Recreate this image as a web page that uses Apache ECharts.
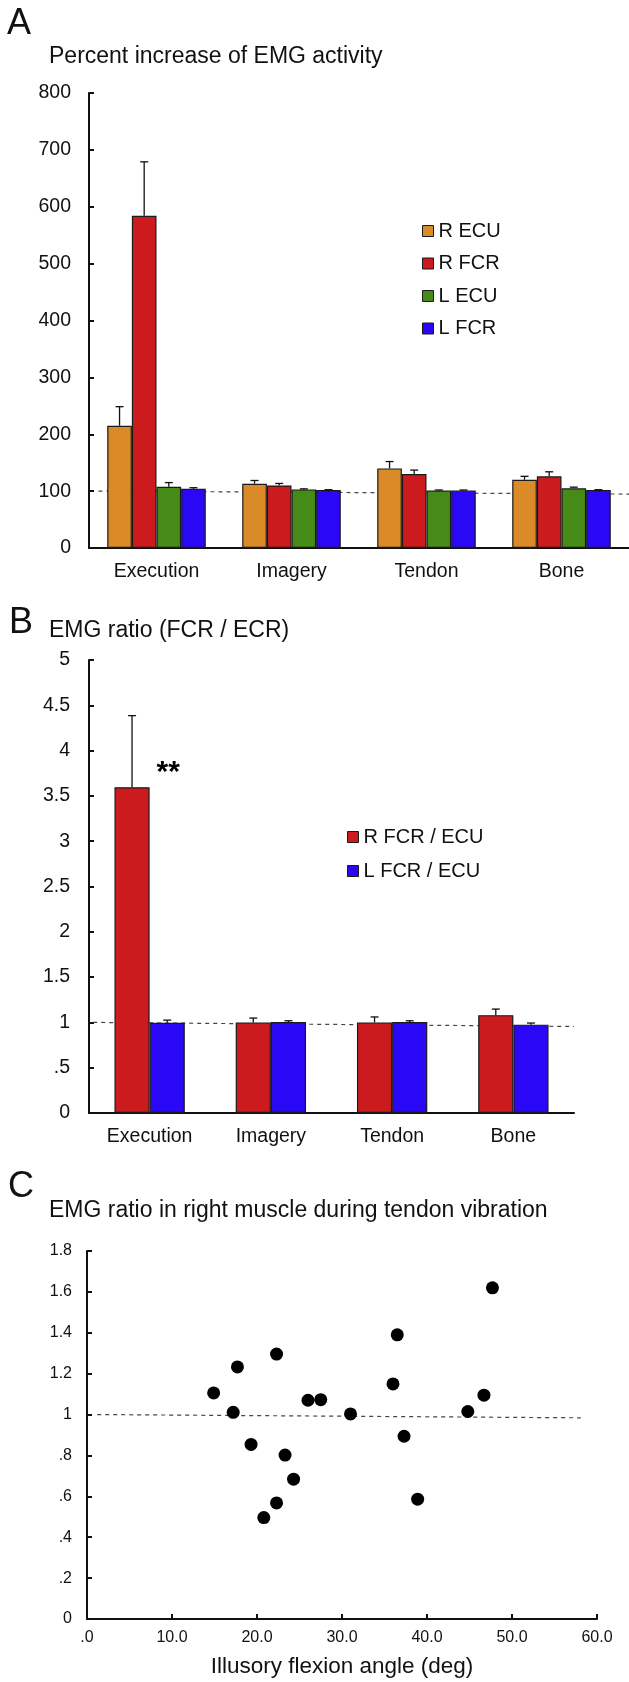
<!DOCTYPE html>
<html>
<head>
<meta charset="utf-8">
<script src="https://cdn.jsdelivr.net/npm/echarts@6/dist/echarts.min.js"></script>
<style>
  html, body { margin: 0; padding: 0; background: #fff; }
  #chart { width: 629px; height: 1682px; }
</style>
</head>
<body>
<div id="chart"></div>
<script>
const FONT = '"Liberation Sans", Arial, sans-serif';
const INK = '#111';

// categories shared by panels A and B
const categories = ['Execution', 'Imagery', 'Tendon', 'Bone'];

// panel A: percent increase of EMG activity (mean, SE)
const namesA = ['R ECU', 'R FCR', 'L ECU', 'L FCR'];
const colorsA = ['#DA8A27', '#CC1B1F', '#468A18', '#2A08F6'];
const rEcu = [215, 113, 140, 120];
const rEcuErr = [33.5, 5.7, 12, 6];
const rFcr = [584, 110, 130, 126];
const rFcrErr = [95, 3.5, 7, 8];
const lEcu = [107.6, 103, 101, 105];
const lEcuErr = [7.4, 1, 1, 2];
const lFcr = [104, 102, 101, 102];
const lFcrErr = [2, 0.5, 1, 0.5];
const trendA = [[0.07, 100], [4, 94.8]];

// panel B: EMG ratio (FCR / ECR)
const namesB = ['R FCR / ECU', 'L FCR / ECU'];
const colorsB = ['#CC1B1F', '#2A08F6'];
const ratioR = [3.596, 1.0, 1.0, 1.08];
const ratioRErr = [0.79, 0.048, 0.06, 0.067];
const ratioL = [0.995, 1.004, 1.004, 0.975];
const ratioLErr = [0.03, 0.014, 0.014, 0.018];
const trendB = [[0.035, 1.0], [4, 0.955]];
const sigMarkB = [[0.654, 3.82]];

// panel C: EMG ratio vs illusory flexion angle
const angle = [14.9, 17.2, 17.7, 19.3, 20.8, 22.3, 22.3, 23.3, 24.3, 26.0, 27.5, 31.0, 36.0, 36.5, 37.3, 38.9, 44.8, 46.7, 47.7];
const ratioC = [1.106, 1.011, 1.233, 0.854, 0.496, 0.568, 1.296, 0.802, 0.684, 1.070, 1.073, 1.003, 1.150, 1.390, 0.894, 0.586, 1.015, 1.095, 1.620];
const trendC = [[1.2, 1.0], [58.1, 0.984]];

const stripZero = (v, d) => {
  const s = d == null ? String(+v.toFixed(2)) : v.toFixed(d);
  return s.replace(/^0\./, '.');
};

const errorSeries = (vals, errs, idx, n, gap, xi, yi) => ({
  type: 'custom',
  xAxisIndex: xi,
  yAxisIndex: yi,
  z: 5,
  encode: { x: 0, y: [1, 2] },
  data: vals.map((v, i) => [i, v, v + errs[i]]),
  renderItem: (params, api) => {
    const base = api.coord([api.value(0), api.value(1)]);
    const top = api.coord([api.value(0), api.value(2)]);
    const band = api.size([1, 0])[0];
    const bw = band * (1 - gap) / n;
    const x = base[0] + (idx - (n - 1) / 2) * bw;
    const st = { stroke: INK, lineWidth: 1.3 };
    return {
      type: 'group',
      children: [
        { type: 'line', shape: { x1: x, y1: base[1], x2: x, y2: top[1] }, style: st },
        { type: 'line', shape: { x1: x - 4, y1: top[1], x2: x + 4, y2: top[1] }, style: st },
      ],
    };
  },
});

const barSeries = (name, vals, color, gap, xi, yi) => ({
  name,
  type: 'bar',
  xAxisIndex: xi,
  yAxisIndex: yi,
  data: vals,
  barGap: '0%',
  barCategoryGap: gap * 100 + '%',
  z: 3,
  itemStyle: { color, borderColor: '#1a1a1a', borderWidth: 1.2 },
});

const dashSeries = (data, xi, yi) => ({
  type: 'line',
  xAxisIndex: xi,
  yAxisIndex: yi,
  data,
  symbol: 'none',
  z: 1,
  silent: true,
  lineStyle: { color: '#444', width: 1.2, type: [4, 4] },
});

const axisLine = { show: true, lineStyle: { color: INK, width: 2 } };
const labelStyle = (size, margin) => ({ color: INK, fontSize: size, fontFamily: FONT, margin });
const titleStyle = (size) => ({ fontSize: size, fontWeight: 'normal', color: INK, fontFamily: FONT });
const legendBase = {
  orient: 'vertical', padding: 0, itemWidth: 11, itemHeight: 11, icon: 'rect',
  itemStyle: { borderColor: '#1a1a1a', borderWidth: 1 },
  textStyle: { fontSize: 20, color: INK, fontFamily: FONT },
  selectedMode: false,
};

const gapA = 0.27;
const gapB = 0.42;

const chart = echarts.init(document.getElementById('chart'));
chart.setOption({
  animation: false,
  backgroundColor: '#fff',
  textStyle: { fontFamily: FONT },
  title: [
    { text: 'A', left: 7, top: 6, padding: 0, textStyle: titleStyle(36) },
    { text: 'Percent increase of EMG activity', left: 49, top: 45, padding: 0, textStyle: titleStyle(23) },
    { text: 'B', left: 9, top: 605, padding: 0, textStyle: titleStyle(36) },
    { text: 'EMG ratio (FCR / ECR)', left: 49, top: 619, padding: 0, textStyle: titleStyle(23) },
    { text: 'C', left: 8, top: 1169, padding: 0, textStyle: titleStyle(36) },
    { text: 'EMG ratio in right muscle during tendon vibration', left: 49, top: 1199, padding: 0, textStyle: titleStyle(23) },
  ],
  legend: [
    { ...legendBase, data: namesA, left: 422, top: 221, itemGap: 12.5 },
    { ...legendBase, data: namesB, left: 347, top: 827, itemGap: 14 },
  ],
  grid: [
    { left: 89, top: 93, width: 541, height: 455 },
    { left: 89, top: 660, width: 485, height: 453 },
    { left: 87, top: 1251, width: 510, height: 368 },
  ],
  xAxis: [
    { type: 'category', gridIndex: 0, data: categories, axisLine, axisTick: { show: false }, axisLabel: labelStyle(19.5, 14) },
    { type: 'value', gridIndex: 0, min: 0, max: 4, show: false },
    { type: 'category', gridIndex: 1, data: categories, axisLine, axisTick: { show: false }, axisLabel: labelStyle(19.5, 14) },
    { type: 'value', gridIndex: 1, min: 0, max: 4, show: false },
    {
      type: 'value', gridIndex: 2, min: 0, max: 60, interval: 10,
      axisLine, splitLine: { show: false },
      axisTick: { show: true, inside: true, length: 5, lineStyle: { color: INK, width: 2 } },
      axisLabel: { ...labelStyle(16, 11), formatter: (v) => stripZero(v, 1) },
      name: 'Illusory flexion angle (deg)', nameLocation: 'middle', nameGap: 36,
      nameTextStyle: { fontSize: 22.5, color: INK, fontFamily: FONT },
    },
  ],
  yAxis: [
    {
      type: 'value', gridIndex: 0, min: 0, max: 800, interval: 100,
      axisLine, splitLine: { show: false },
      axisTick: { show: true, inside: true, length: 5, lineStyle: { color: INK, width: 2 } },
      axisLabel: labelStyle(19.5, 18),
    },
    {
      type: 'value', gridIndex: 1, min: 0, max: 5, interval: 0.5,
      axisLine, splitLine: { show: false },
      axisTick: { show: true, inside: true, length: 5, lineStyle: { color: INK, width: 2 } },
      axisLabel: { ...labelStyle(19.5, 19), formatter: (v) => stripZero(v) },
    },
    {
      type: 'value', gridIndex: 2, min: 0, max: 1.8, interval: 0.2,
      axisLine, splitLine: { show: false },
      axisTick: { show: true, inside: true, length: 5, lineStyle: { color: INK, width: 2 } },
      axisLabel: { ...labelStyle(16, 15), formatter: (v) => stripZero(v) },
    },
  ],
  series: [
    dashSeries(trendA, 1, 0),
    barSeries(namesA[0], rEcu, colorsA[0], gapA, 0, 0),
    barSeries(namesA[1], rFcr, colorsA[1], gapA, 0, 0),
    barSeries(namesA[2], lEcu, colorsA[2], gapA, 0, 0),
    barSeries(namesA[3], lFcr, colorsA[3], gapA, 0, 0),
    errorSeries(rEcu, rEcuErr, 0, 4, gapA, 0, 0),
    errorSeries(rFcr, rFcrErr, 1, 4, gapA, 0, 0),
    errorSeries(lEcu, lEcuErr, 2, 4, gapA, 0, 0),
    errorSeries(lFcr, lFcrErr, 3, 4, gapA, 0, 0),

    dashSeries(trendB, 3, 1),
    barSeries(namesB[0], ratioR, colorsB[0], gapB, 2, 1),
    barSeries(namesB[1], ratioL, colorsB[1], gapB, 2, 1),
    errorSeries(ratioR, ratioRErr, 0, 2, gapB, 2, 1),
    errorSeries(ratioL, ratioLErr, 1, 2, gapB, 2, 1),
    {
      type: 'scatter', xAxisIndex: 3, yAxisIndex: 1, data: sigMarkB, symbolSize: 0, silent: true, z: 6,
      itemStyle: { color: '#000', opacity: 1 },
      label: {
        show: true, position: 'inside', formatter: '**', fontSize: 30, fontWeight: 'bold',
        color: '#000', textBorderWidth: 0, fontFamily: FONT, offset: [0, 6],
      },
    },

    dashSeries(trendC, 4, 2),
    {
      type: 'scatter', xAxisIndex: 4, yAxisIndex: 2, z: 4,
      data: angle.map((a, i) => [a, ratioC[i]]),
      symbol: 'circle', symbolSize: 13,
      itemStyle: { color: '#000', opacity: 1 },
    },
  ],
});
</script>
</body>
</html>
